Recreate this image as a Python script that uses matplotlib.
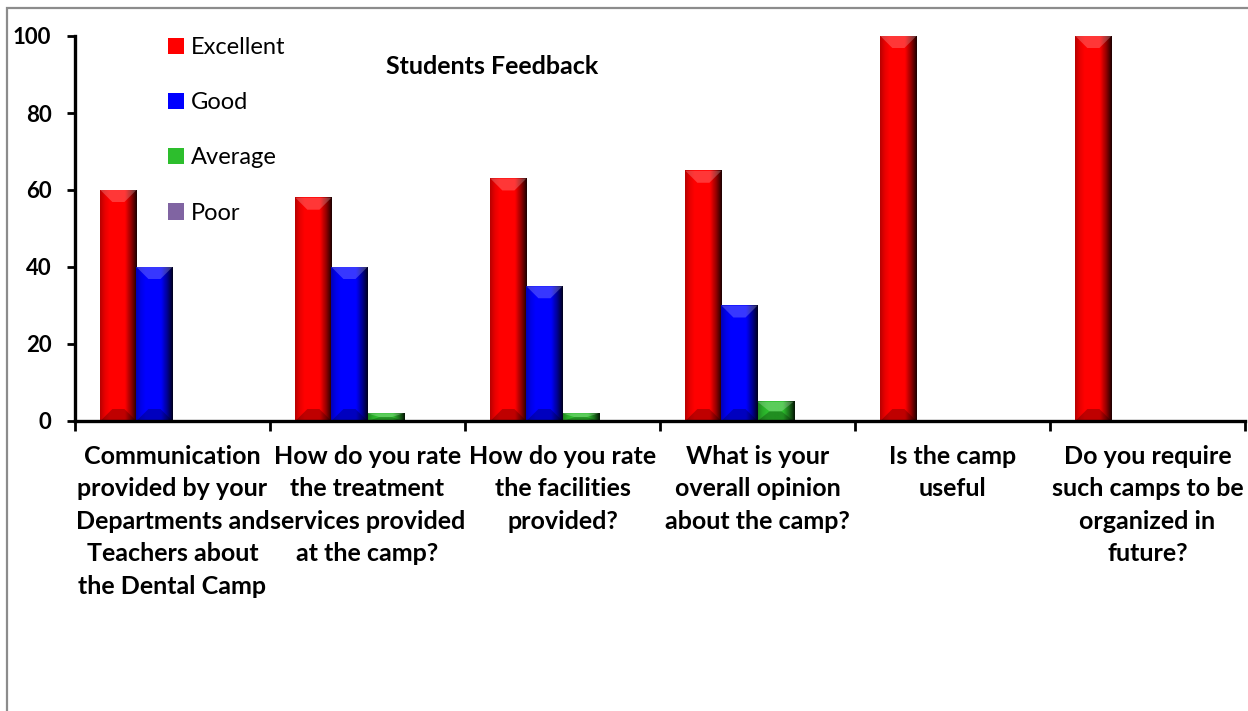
import numpy as np
import matplotlib
matplotlib.use("Agg")
import matplotlib.pyplot as plt
from matplotlib.patches import Patch, Polygon, Rectangle
from matplotlib.colors import to_rgb

# data
questions = [
    "Communication\nprovided by your\nDepartments and\nTeachers about\nthe Dental Camp",
    "How do you rate\nthe treatment\nservices provided\nat the camp?",
    "How do you rate\nthe facilities\nprovided?",
    "What is your\noverall opinion\nabout the camp?",
    "Is the camp\nuseful",
    "Do you require\nsuch camps to be\norganized in\nfuture?",
]
series = ["Excellent", "Good", "Average", "Poor"]
excellent = [60, 58, 63, 65, 100, 100]
good = [40, 40, 35, 30, 0, 0]
average = [0, 2, 2, 5, 0, 0]
poor = [0, 0, 0, 0, 0, 0]
colors = ["#FF0000", "#0000FF", "#2DBE2D", "#8064A2"]

plt.rcParams['font.family'] = ['Lato', 'DejaVu Sans']

W, H = 1248, 711
fig = plt.figure(figsize=(W / 100, H / 100), dpi=100)
ax = fig.add_axes([75 / W, 1 - 421 / H, (1245 - 75) / W, (421 - 36) / H])

# outer chart frame (grey), cut off at right/bottom like the source
fig.patches.append(Rectangle((7 / W, -0.2), 1.2, 1 - 8 / H + 0.2, transform=fig.transFigure,
                             fill=False, edgecolor="#8c8c8c", linewidth=1.6))

x = np.arange(len(questions))
bw = 0.185
ax.set_xlim(-0.5, len(questions) - 0.5)
ax.set_ylim(0, 100)

# pixel -> data scale for the bevel sizes
px_x = 1.0 / 195.0
px_y = 100.0 / 385.0

def shade(t):
    # brightness profile across a bar (left edge a bit dark, right edge to black)
    return np.interp(t, [0, 0.12, 0.25, 0.68, 0.86, 1.0], [0.72, 0.9, 1.0, 1.0, 0.55, 0.12])

tt = np.linspace(0, 1, 64)
prof = shade(tt)

for i, (name, vals, col) in enumerate(zip(series, [excellent, good, average, poor], colors)):
    pos = x + (i - 1.5) * bw
    bars = ax.bar(pos, vals, bw, color=col, linewidth=0, label=name, zorder=2)
    rgb = np.array(to_rgb(col))
    img = (prof[:, None] * rgb[None, :])[None, :, :]
    for b in bars:
        h = b.get_height()
        if h <= 0:
            continue
        x0, w = b.get_x(), b.get_width()
        ax.imshow(img, extent=(x0, x0 + w, 0, h), aspect='auto', zorder=3, interpolation='bilinear')
        d = 12 * px_x
        dy = min(12 * px_y, h / 2)
        top = Polygon([(x0, h), (x0 + w, h), (x0 + w - d, h - dy), (x0 + d, h - dy)],
                      closed=True, facecolor="white", alpha=0.22, linewidth=0, zorder=4)
        bot = Polygon([(x0, 0), (x0 + w, 0), (x0 + w - d, dy), (x0 + d, dy)],
                      closed=True, facecolor="black", alpha=0.25, linewidth=0, zorder=4)
        ax.add_patch(top)
        ax.add_patch(bot)

ax.set_xlim(-0.5, len(questions) - 0.5)
ax.set_ylim(0, 100)

for s in ["top", "right"]:
    ax.spines[s].set_visible(False)
for s in ["left", "bottom"]:
    ax.spines[s].set_linewidth(2.4)
    ax.spines[s].set_zorder(5)

ax.set_yticks([0, 20, 40, 60, 80, 100])
ax.tick_params(axis='y', length=6, width=2, pad=11, labelsize=16)
for lab in ax.get_yticklabels():
    lab.set_fontweight('bold')

ax.set_xticks(np.arange(-0.5, len(questions), 1.0))
ax.set_xticklabels([])
ax.tick_params(axis='x', which='major', length=7, width=2, direction='out')
ax.set_xticks(x, minor=True)
ax.set_xticklabels(questions, minor=True, fontsize=18, fontweight='bold', linespacing=1.5)
ax.tick_params(axis='x', which='minor', length=0, pad=17)

handles = [Patch(facecolor=c, edgecolor='none') for c in colors]
ax.legend(handles, series, loc='upper left', bbox_to_anchor=(168 / W, 1 - 37 / H),
          bbox_transform=fig.transFigure, frameon=False, fontsize=17,
          handlelength=0.68, handleheight=0.68, handletextpad=0.3, labelspacing=1.45,
          borderaxespad=0, borderpad=0)

fig.text(492 / W, 1 - 67 / H, "Students Feedback", ha='center', va='center',
         fontsize=18, fontweight='bold')

fig.savefig("out.png", dpi=100)
